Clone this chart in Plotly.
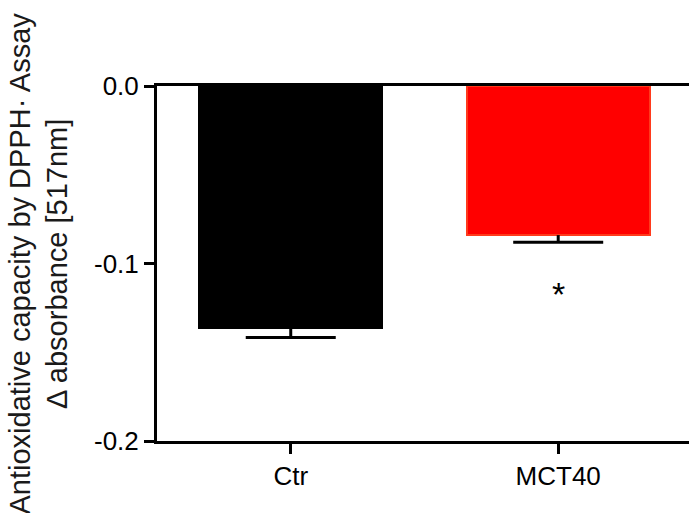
import plotly.graph_objects as go

categories = ["Ctr", "MCT40"]
means = [-0.1365, -0.0840]
sem = [0.0052, 0.0040]
bar_colors = ["#000000", "#ff0000"]
edge_colors = ["#000000", "#ff3a1c"]
y_ticks = [0.0, -0.1, -0.2]
y_tick_labels = ["0.0", "-0.1", "-0.2"]
sig_marks = ["", "*"]
sig_y = [None, -0.1170]

font_family = "Arial, Liberation Sans, sans-serif"

fig = go.Figure()
# bars with stem-only (downward) error bars
fig.add_trace(go.Bar(
    x=categories,
    y=means,
    width=0.684,
    marker=dict(color=bar_colors, line=dict(color=edge_colors, width=2)),
    error_y=dict(type="data", symmetric=False, array=[0, 0], arrayminus=sem,
                 color="#000000", thickness=3, width=0),
    showlegend=False,
    hoverinfo="skip",
))
# caps at the lower end of the error bars
fig.add_trace(go.Scatter(
    x=categories,
    y=[m - s for m, s in zip(means, sem)],
    mode="markers",
    marker=dict(size=1, opacity=0),
    error_y=dict(type="data", array=[0, 0], color="#000000", thickness=3, width=45),
    showlegend=False,
    hoverinfo="skip",
))

for cat, mark, yy in zip(categories, sig_marks, sig_y):
    if mark:
        fig.add_annotation(x=cat, y=yy, text=mark, showarrow=False,
                           font=dict(family=font_family, size=34, color="#000000"),
                           xanchor="center", yanchor="middle")

W, H = 689, 513
L, R, T, B = 157, 0, 86, 72
pw = W - L - R

fig.add_annotation(
    xref="paper", yref="paper",
    x=(38 - L) / pw, y=0.5,
    text="Antioxidative capacity by DPPH· Assay<br>Δ absorbance [517nm]",
    textangle=-90, showarrow=False,
    font=dict(family=font_family, size=29, color="#1a1a1a"),
    xanchor="center", yanchor="middle",
)

fig.update_layout(
    width=W, height=H,
    margin=dict(l=L, r=R, t=T, b=B, pad=0),
    plot_bgcolor="white", paper_bgcolor="white",
    font=dict(family=font_family, size=26, color="#000000"),
    bargap=0,
)
fig.update_xaxes(
    range=[-0.5, 1.489],
    showline=True, linewidth=3, linecolor="#000000", mirror=True,
    ticks="outside", ticklen=10, tickwidth=3, tickcolor="#000000",
    showgrid=False, zeroline=False,
    tickfont=dict(size=26, family=font_family, color="#000000"),
)
fig.update_yaxes(
    range=[-0.2, 0.0],
    tickvals=y_ticks, ticktext=y_tick_labels,
    showline=True, linewidth=3, linecolor="#000000",
    ticks="outside", ticklen=10, tickwidth=3, tickcolor="#000000",
    showgrid=False, zeroline=False,
    tickfont=dict(size=26, family=font_family, color="#000000"),
)

fig.write_html(
    "out.html",
    config={"displayModeBar": False},
    post_script="document.body.style.margin='0';document.body.style.overflow='hidden';",
)
